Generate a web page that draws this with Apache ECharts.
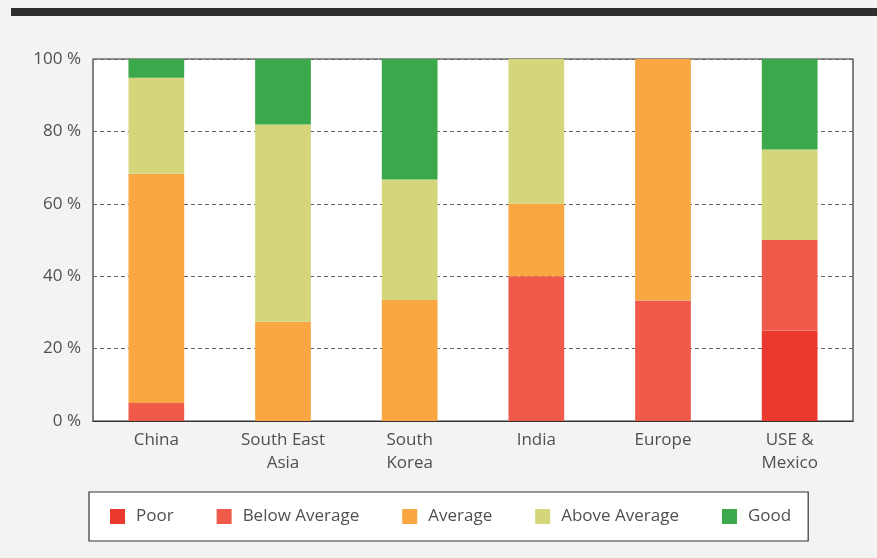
<!DOCTYPE html>
<html>
<head>
<meta charset="utf-8">
<script src="https://cdn.jsdelivr.net/npm/echarts@6/dist/echarts.min.js"></script>
<style>
html,body{margin:0;padding:0;background:#f3f3f1;}
#chart{width:877px;height:558px;}
</style>
</head>
<body>
<div id="chart"></div>
<script>
const categories = ['China', 'South East\nAsia', 'South\nKorea', 'India', 'Europe', 'USE &\nMexico'];
const poor         = [0, 0, 0, 0, 0, 25];
const belowAverage = [5, 0, 0, 40, 33.3, 25];
const average      = [63.3, 27.4, 33.4, 20, 66.7, 0];
const aboveAverage = [26.5, 54.5, 33.3, 40, 0, 25];
const good         = [5.2, 18.1, 33.3, 0, 0, 25];
const yTicks = [0, 20, 40, 60, 80, 100];

const seriesNames = ['Poor', 'Below Average', 'Average', 'Above Average', 'Good'];
const seriesData = [poor, belowAverage, average, aboveAverage, good];
const colors = ['#ea3a2f', '#ef5a4b', '#f9a743', '#d5d57c', '#3ba84c'];

const FONT = '"Open Sans", sans-serif';
const chart = echarts.init(document.getElementById('chart'));
chart.setOption({
  backgroundColor: '#f3f3f1',
  animation: false,
  color: colors,
  textStyle: { fontFamily: FONT },
  graphic: [{
    type: 'rect', left: 11, top: 8, shape: { width: 866, height: 8 },
    style: { fill: '#2e2e2e' }
  }],
  grid: {
    left: 93, right: 24, top: 59, bottom: 137,
    show: true, backgroundColor: '#ffffff', borderColor: '#333', borderWidth: 1.2
  },
  legend: {
    left: 89, top: 492,
    padding: [16, 17, 16, 21],
    itemWidth: 15, itemHeight: 15, itemGap: 43,
    icon: 'rect',
    backgroundColor: '#ffffff', borderColor: '#333', borderWidth: 1.2,
    textStyle: { fontSize: 17, color: '#505050', fontFamily: FONT, padding: [0, 0, 0, 6] },
    data: seriesNames
  },
  xAxis: {
    type: 'category', data: categories,
    axisTick: { show: false },
    axisLine: { lineStyle: { color: '#333', width: 1.2 } },
    axisLabel: { fontSize: 17, color: '#505050', lineHeight: 23, margin: 8, fontFamily: FONT }
  },
  yAxis: {
    type: 'value', min: yTicks[0], max: yTicks[yTicks.length - 1], interval: 20,
    axisLine: { show: false }, axisTick: { show: false },
    axisLabel: { fontSize: 17, color: '#505050', margin: 12, fontFamily: FONT, formatter: v => v + ' %' },
    splitLine: { lineStyle: { color: '#666', type: [4, 3], width: 1 } }
  },
  series: seriesNames.map((n, i) => ({
    name: n, type: 'bar', stack: 'total', barWidth: '44%',
    data: seriesData[i],
    itemStyle: { color: colors[i] }
  }))
});
</script>
</body>
</html>
